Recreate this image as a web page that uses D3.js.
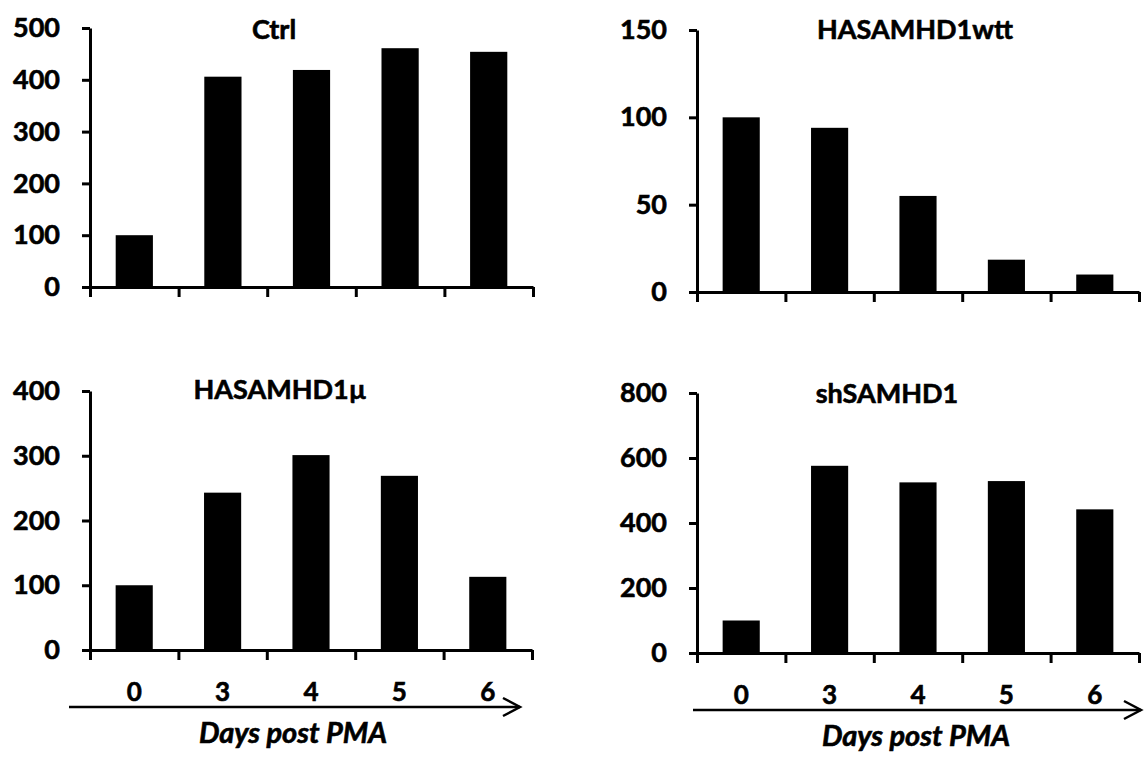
<!DOCTYPE html>
<html>
<head>
<meta charset="utf-8">
<script src="https://cdn.jsdelivr.net/npm/d3@7"></script>
<style>
  body { margin: 0; background: #fff; }
  text { font-family: Lato, "Open Sans", sans-serif; font-weight: bold; fill: #000; stroke: #000; stroke-width: 0.6px; }
</style>
</head>
<body>
<div id="chart"></div>
<script>
// days post PMA and relative values per condition
const days = ["0", "3", "4", "5", "6"];
const ctrlValues = [100, 406, 419, 461, 454];
const wtValues = [100, 94, 55, 18.5, 10];
const muValues = [100, 243, 301, 269, 113];
const shValues = [100, 576, 525, 529, 442];

const titles = ["Ctrl", "HASAMHD1wtt", "HASAMHD1\u00b5", "shSAMHD1"];
const yTicks = [
    [0, 100, 200, 300, 400, 500],
    [0, 50, 100, 150],
    [0, 100, 200, 300, 400],
    [0, 200, 400, 600, 800]
];
const axisLabel = "Days post PMA";

const width = 1145;
const height = 759;

// where each small chart sits on the page
const panels = [
    { values: ctrlValues, x0: 90, x1: 533, yTop: 28, yZero: 287, tx: 274, ty: 39, bottom: false },
    { values: wtValues, x0: 697, x1: 1139, yTop: 30, yZero: 292, tx: 915, ty: 39, bottom: false },
    { values: muValues, x0: 90, x1: 532, yTop: 391, yZero: 650, tx: 280, ty: 399, bottom: true, a0: 69, a1: 520, lx: 293 },
    { values: shValues, x0: 697, x1: 1139, yTop: 393, yZero: 653, tx: 887, ty: 403, bottom: true, a0: 693, a1: 1141, lx: 916 }
];

const svg = d3.select("#chart")
    .append("svg")
    .attr("width", width)
    .attr("height", height);

panels.forEach((p, i) => {
    const g = svg.append("g");
    const ticks = yTicks[i];

    const x = d3.scaleBand()
        .domain(days)
        .range([p.x0, p.x1])
        .paddingInner(0.58)
        .paddingOuter(0.29);

    const y = d3.scaleLinear()
        .domain([0, d3.max(ticks)])
        .range([p.yZero, p.yTop]);

    // bars
    g.selectAll("rect.bar")
        .data(p.values)
        .enter()
        .append("rect")
        .attr("class", "bar")
        .attr("x", (d, j) => x(days[j]))
        .attr("y", d => y(d))
        .attr("width", x.bandwidth())
        .attr("height", d => y(0) - y(d))
        .attr("fill", "#000");

    // y axis
    const yAxis = g.append("g")
        .attr("transform", `translate(${p.x0},0)`)
        .call(d3.axisLeft(y).tickValues(ticks).tickSize(8).tickSizeOuter(0).tickPadding(22));
    yAxis.selectAll("path, line").attr("stroke", "#000").attr("stroke-width", 3);
    yAxis.selectAll("text").attr("font-size", "27px").attr("font-family", null);

    // x axis with ticks between the groups
    const edges = d3.scaleLinear().domain([0, days.length]).range([p.x0, p.x1]);
    const xAxis = g.append("g")
        .attr("transform", `translate(0,${p.yZero})`)
        .call(d3.axisBottom(edges).tickValues(d3.range(days.length + 1)).tickSize(10).tickSizeOuter(0).tickFormat(""));
    xAxis.selectAll("path, line").attr("stroke", "#000").attr("stroke-width", 3);

    // title
    g.append("text")
        .attr("x", p.tx)
        .attr("y", p.ty)
        .attr("text-anchor", "middle")
        .attr("font-size", "27px")
        .text(titles[i]);

    if (p.bottom) {
        g.selectAll("text.day")
            .data(days)
            .enter()
            .append("text")
            .attr("class", "day")
            .attr("x", d => x(d) + x.bandwidth() / 2)
            .attr("y", p.yZero + 51)
            .attr("text-anchor", "middle")
            .attr("font-size", "26px")
            .text(d => d);

        const ay = p.yZero + 57;
        g.append("line")
            .attr("x1", p.a0)
            .attr("x2", p.a1)
            .attr("y1", ay)
            .attr("y2", ay)
            .attr("stroke", "#000")
            .attr("stroke-width", 2.5);
        g.append("path")
            .attr("d", `M${p.a1 - 17},${ay - 9}L${p.a1},${ay}L${p.a1 - 17},${ay + 9}`)
            .attr("fill", "none")
            .attr("stroke", "#000")
            .attr("stroke-width", 2.5);

        g.append("text")
            .attr("x", p.lx)
            .attr("y", p.yZero + 93)
            .attr("text-anchor", "middle")
            .attr("font-size", "29px")
            .attr("font-style", "italic")
            .text(axisLabel);
    }
});
</script>
</body>
</html>
